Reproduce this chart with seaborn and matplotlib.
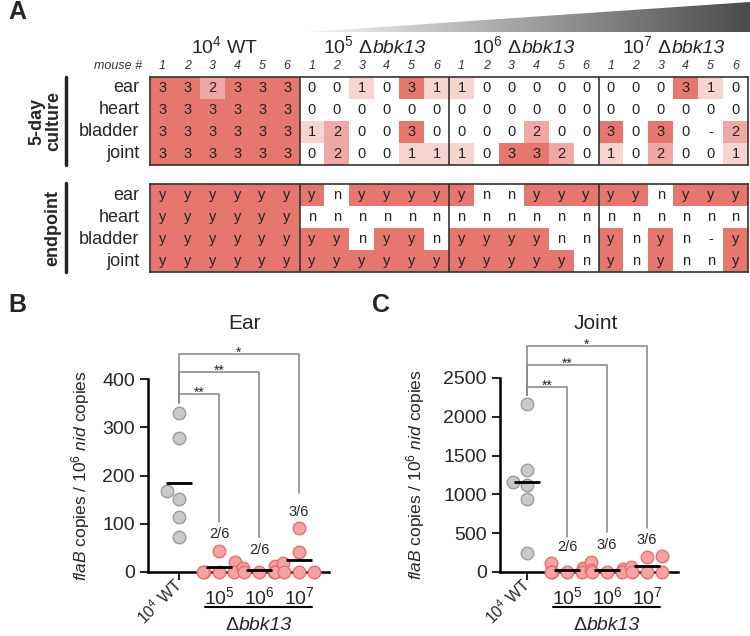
import numpy as np
import pandas as pd
import matplotlib
matplotlib.use("Agg")
import matplotlib.pyplot as plt
import seaborn as sns
from matplotlib.colors import ListedColormap, LinearSegmentedColormap
from matplotlib.patches import Polygon
from matplotlib.lines import Line2D
from matplotlib.transforms import offset_copy

# ---- data: panel A (5-day culture scores, endpoint y/n) ----
tissues = ["ear", "heart", "bladder", "joint"]
group_doses = ["10$^4$ WT", "10$^5$ Δ", "10$^6$ Δ", "10$^7$ Δ"]
group_strain = ["", "bbk13", "bbk13", "bbk13"]
mouse_ids = ["1", "2", "3", "4", "5", "6"]

culture_ear = "3 3 2 3 3 3  0 0 1 0 3 1  1 0 0 0 0 0  0 0 0 3 1 0".split()
culture_heart = "3 3 3 3 3 3  0 0 0 0 0 0  0 0 0 0 0 0  0 0 0 0 0 0".split()
culture_bladder = "3 3 3 3 3 3  1 2 0 0 3 0  0 0 0 2 0 0  3 0 3 0 - 2".split()
culture_joint = "3 3 3 3 3 3  0 2 0 0 1 1  1 0 3 3 2 0  1 0 2 0 0 1".split()

endpoint_ear = "y y y y y y  y n y y y y  y n n y y y  y y n y y y".split()
endpoint_heart = "y y y y y y  n n n n n n  n n n n n n  n n n n n n".split()
endpoint_bladder = "y y y y y y  y y n y y n  y y y y n n  y n y n - y".split()
endpoint_joint = "y y y y y y  y y y y y y  y y y y y n  y n y n n y".split()

# ---- data: panels B and C (flaB copies / 10^6 nid copies) ----
groups = ["WT", "1e5", "1e6", "1e7"]
ear_wt = [330, 277, 167, 152, 113, 73]
ear_1e5 = [43, 20, 0, 0, 0, 0]
ear_1e6 = [12, 9, 0, 0, 0, 0]
ear_1e7 = [92, 42, 18, 0, 0, 0]
joint_wt = [2170, 1320, 1120, 1160, 940, 240]
joint_1e5 = [110, 55, 0, 0, 0, 0]
joint_1e6 = [125, 45, 20, 0, 0, 0]
joint_1e7 = [205, 195, 70, 0, 0, 0]
ear_fracs = ["2/6", "2/6", "3/6"]
joint_fracs = ["2/6", "3/6", "3/6"]
stars = ["**", "**", "*"]

# ---- style ----
sns.set_style("ticks")
plt.rcParams["font.family"] = ["Liberation Sans", "DejaVu Sans"]
plt.rcParams["mathtext.fontset"] = "custom"
plt.rcParams["mathtext.rm"] = "Liberation Sans"
plt.rcParams["mathtext.it"] = "Liberation Sans:italic"
plt.rcParams["mathtext.bf"] = "Liberation Sans:bold"

RED = "#e5776f"
W, H = 750, 636
fig = plt.figure(figsize=(7.5, 6.36), dpi=100)
renderer = fig.canvas.get_renderer()


def px_axes(left, top, right, bottom):
    return fig.add_axes([left / W, 1 - bottom / H, (right - left) / W, (bottom - top) / H])


def mixed_text(ax, x, y, regular, italic, trans, fs):
    # regular part + italic part, centred together on x, sharing one baseline
    t1 = ax.text(x, y, regular, transform=trans, ha="left", va="baseline", fontsize=fs)
    t2 = ax.text(x, y, italic, transform=trans, ha="left", va="baseline", fontsize=fs,
                 style="italic")
    w1 = t1.get_window_extent(renderer).width
    w2 = t2.get_window_extent(renderer).width if italic else 0
    t1.set_transform(offset_copy(trans, fig=fig, x=-(w1 + w2) / 2, y=0, units="dots"))
    t2.set_transform(offset_copy(trans, fig=fig, x=-(w1 + w2) / 2 + w1, y=0, units="dots"))


def to_num(cells, mapping):
    return [mapping.get(c, np.nan) for c in cells]


def draw_grid(ax, rows, values, cmap, vmax):
    labels = np.array(rows)
    sns.heatmap(values, cmap=cmap, vmin=-0.5, vmax=vmax + 0.5, annot=labels, fmt="",
                cbar=False, ax=ax, annot_kws={"fontsize": 10.5, "color": "#222222"})
    # masked cells ("-") get no annotation from seaborn
    for i, row in enumerate(rows):
        for j, c in enumerate(row):
            if c == "-":
                ax.text(j + 0.5, i + 0.5, "-", ha="center", va="center",
                        fontsize=10.5, color="#222222")
    ax.set_facecolor("white")
    ax.set_xticks([])
    ax.set_yticks(np.arange(len(tissues)) + 0.5)
    ax.set_yticklabels(tissues, rotation=0, fontsize=13)
    ax.tick_params(left=False, pad=4)
    for s in ax.spines.values():
        s.set_visible(True)
        s.set_color("#333333")
        s.set_linewidth(1.2)
    for c in (6, 12, 18):
        ax.axvline(c, color="#333333", lw=1.2)


# ---- panel A ----
cult_rows = [culture_ear, culture_heart, culture_bladder, culture_joint]
end_rows = [endpoint_ear, endpoint_heart, endpoint_bladder, endpoint_joint]
cult_vals = np.array([to_num(r, {"0": 0, "1": 1, "2": 2, "3": 3}) for r in cult_rows])
end_vals = np.array([to_num(r, {"n": 0, "y": 1}) for r in end_rows])

ax_cult = px_axes(150, 77, 748, 165)
draw_grid(ax_cult, cult_rows, cult_vals,
          ListedColormap(["#ffffff", "#f8d4d1", "#efa8a3", RED]), 3)
ax_end = px_axes(150, 184, 748, 272)
draw_grid(ax_end, end_rows, end_vals, ListedColormap(["#ffffff", RED]), 1)

for g in range(4):
    mixed_text(ax_cult, g * 6 + 3, -1.07, group_doses[g], group_strain[g],
               ax_cult.transData, 14)
    for j, m in enumerate(mouse_ids):
        ax_cult.text(g * 6 + j + 0.5, -0.5, m, ha="center", va="center",
                     fontsize=9, style="italic", color="#333333")
ax_cult.text(-0.3, -0.5, "mouse #", ha="right", va="center", fontsize=9,
             style="italic", color="#333333")

fig.text(45 / W, 1 - 121 / H, "5-day\nculture", rotation=90, ha="center", va="center",
         fontsize=13, fontweight="bold", linespacing=1.0)
fig.text(53 / W, 1 - 228 / H, "endpoint", rotation=90, ha="center", va="center",
         fontsize=13, fontweight="bold")
fig.add_artist(Line2D([66 / W, 66 / W], [1 - 77 / H, 1 - 165 / H], color="#222222", lw=2.5))
fig.add_artist(Line2D([66 / W, 66 / W], [1 - 183 / H, 1 - 272 / H], color="#222222", lw=2.5))

# dose gradient wedge
gax = px_axes(308, 2, 750, 32)
im = gax.imshow(np.linspace(0, 1, 256)[None, :], aspect="auto", extent=(0, 1, 0, 1),
                cmap=LinearSegmentedColormap.from_list("dose", ["#f4f4f4", "#4b4b4e"]))
im.set_clip_path(Polygon([(0, 0), (1, 0), (1, 1)], transform=gax.transAxes))
gax.set_xlim(0, 1)
gax.set_ylim(0, 1)
gax.axis("off")

fig.text(8 / W, 1 - 12 / H, "A", fontsize=18, fontweight="bold", va="center")
fig.text(8 / W, 1 - 305 / H, "B", fontsize=18, fontweight="bold", va="center")
fig.text(372 / W, 1 - 305 / H, "C", fontsize=18, fontweight="bold", va="center")
fig.text(245 / W, 1 - 323 / H, "Ear", fontsize=15, ha="center", va="center")
fig.text(596 / W, 1 - 323 / H, "Joint", fontsize=15, ha="center", va="center")


# ---- panels B and C ----
def dot_panel(ax, series, fracs, ymax, yticks, levels, ends, frac_y, start, star_off):
    df = pd.DataFrame({"group": np.repeat(groups, [len(s) for s in series]),
                       "value": np.concatenate(series)})
    sns.swarmplot(data=df[df.group == "WT"], x="group", y="value", order=groups,
                  color="#c9c9c9", edgecolor="#9c9c9c", linewidth=1, size=9,
                  warn_thresh=1, ax=ax)
    sns.swarmplot(data=df[df.group != "WT"], x="group", y="value", order=groups,
                  color="#f5a3a3", edgecolor="#e46f6c", linewidth=1, size=9,
                  warn_thresh=1, ax=ax)
    for coll in ax.collections:
        coll.set_clip_on(False)
    means = df.groupby("group", sort=False)["value"].mean()
    for i, g in enumerate(groups):
        ax.hlines(means[g], i - 0.33, i + 0.33, color="black", lw=2, zorder=5, clip_on=False)

    ax.set_ylim(0, ymax)
    ax.set_yticks(yticks)
    ax.tick_params(axis="y", labelsize=14, length=6, width=1.5)
    ax.tick_params(axis="x", labelsize=11.5, length=6, width=1.5, pad=1)
    ax.set_xticks([0])
    ax.set_xticklabels(["10$^4$ WT"], rotation=45, ha="right", va="center",
                       rotation_mode="anchor")
    ax.set_xlabel("")
    ax.set_ylabel("$\\mathit{flaB}$ copies / 10$^6$ $\\mathit{nid}$ copies", fontsize=12.5)
    sns.despine(ax=ax)
    ax.spines["left"].set_bounds(0, ymax)
    for s in ("left", "bottom"):
        ax.spines[s].set_linewidth(1.8)
        ax.spines[s].set_color("black")

    trans = ax.get_xaxis_transform()
    for i, lab in enumerate(["10$^5$", "10$^6$", "10$^7$"], start=1):
        ax.text(i, -0.13, lab, transform=trans, ha="center", va="center", fontsize=14)
    ax.add_line(Line2D([0.65, 3.33], [-0.18, -0.18], transform=trans, color="black",
                       lw=1.5, clip_on=False))
    mixed_text(ax, 2, -0.30, "Δ", "bbk13", trans, 14)

    for k in range(1, 4):
        ax.plot([0, 0, k, k], [start, levels[k - 1], levels[k - 1], ends[k - 1]],
                color="#8c8c8c", lw=1.2, clip_on=False)
        ax.text(k / 2, levels[k - 1] - star_off, stars[k - 1], ha="center",
                va="baseline", fontsize=10)
        ax.text(k, frac_y[k - 1], fracs[k - 1], ha="center", va="center", fontsize=10.5)


ax_b = px_axes(148, 379, 329, 572)
ax_b.set_xlim(-0.775, 3.75)
dot_panel(ax_b, [ear_wt, ear_1e5, ear_1e6, ear_1e7], ear_fracs, 400,
          [0, 100, 200, 300, 400], [369, 414, 452], [104, 72, 164], [79, 46, 124],
          350, 5)
ax_b.set_xlim(-0.775, 3.75)
ax_b.yaxis.set_label_coords(-0.31, 0.5)

ax_c = px_axes(500, 378, 678, 572)
ax_c.set_xlim(-0.675, 3.775)
dot_panel(ax_c, [joint_wt, joint_1e5, joint_1e6, joint_1e7], joint_fracs, 2500,
          [0, 500, 1000, 1500, 2000, 2500], [2384, 2668, 2912], [450, 515, 567],
          [322, 348, 412], 2280, 30)
ax_c.set_xlim(-0.675, 3.775)
ax_c.yaxis.set_label_coords(-0.41, 0.5)

fig.savefig("out.png", dpi=100)
